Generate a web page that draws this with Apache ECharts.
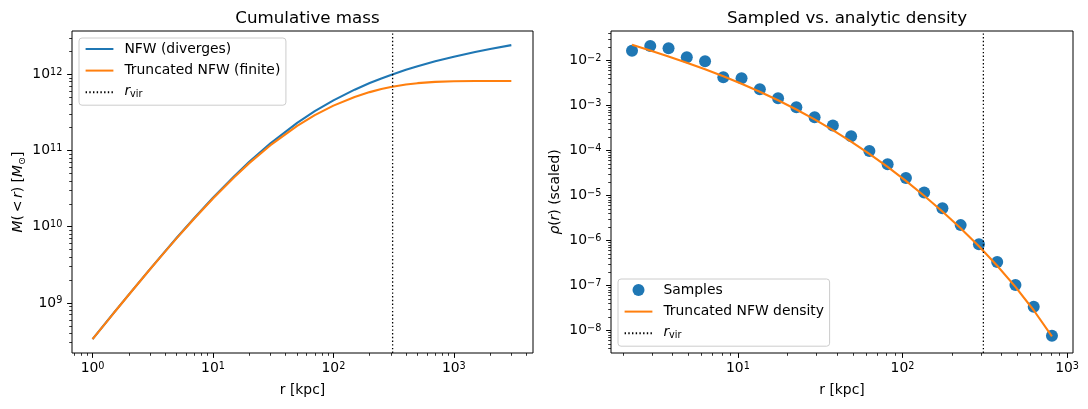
<!DOCTYPE html>
<html><head><meta charset="utf-8">
<script src="https://cdn.jsdelivr.net/npm/echarts@6/dist/echarts.min.js"></script>
<style>html,body{margin:0;padding:0;background:#fff}#c{width:1088px;height:409px}</style>
</head><body><div id="c"></div>
<script>
// ---- Left panel: cumulative mass ----
const massRadii = [1, 1.5, 2, 3, 4, 5, 7, 10, 15, 20, 30, 50, 70, 100, 150, 200, 250, 300, 400, 500, 700, 1000, 1500, 2000, 3000];
const massNFW = [3.35e8, 7.38e8, 1.286e9, 2.779e9, 4.752e9, 7.148e9, 1.302e10, 2.397e10, 4.606e10, 7.098e10, 1.243e11, 2.305e11, 3.278e11, 4.553e11, 6.285e11, 7.675e11, 8.831e11, 9.818e11, 1.1446e12, 1.2756e12, 1.4796e12, 1.7023e12, 1.9613e12, 2.1477e12, 2.4133e12];
const massTrunc = [3.342e8, 7.36e8, 1.280e9, 2.762e9, 4.712e9, 7.075e9, 1.2835e10, 2.347e10, 4.469e10, 6.826e10, 1.1742e11, 2.108e11, 2.911e11, 3.881e11, 5.044e11, 5.837e11, 6.398e11, 6.807e11, 7.339e11, 7.648e11, 7.953e11, 8.106e11, 8.156e11, 8.165e11, 8.166e11];
// ---- Right panel: sampled vs analytic density ----
const sampleRadii = [2.273, 2.934, 3.789, 4.891, 6.315, 8.152, 10.52, 13.59, 17.54, 22.65, 29.24, 37.74, 48.73, 62.91, 81.22, 104.9, 135.4, 174.8, 225.6, 291.3, 376.1, 485.5, 626.8, 809.1];
const sampleDensity = [1.67e-2, 2.12e-2, 1.89e-2, 1.19e-2, 9.7e-3, 4.27e-3, 4.06e-3, 2.31e-3, 1.46e-3, 9.2e-4, 5.52e-4, 3.6e-4, 2.09e-4, 9.85e-5, 4.99e-5, 2.47e-5, 1.17e-5, 5.25e-6, 2.2e-6, 8.3e-7, 3.31e-7, 1.02e-7, 3.36e-8, 7.6e-9];
const densityTrunc = [2.271e-2, 1.687e-2, 1.240e-2, 8.993e-3, 6.414e-3, 4.486e-3, 3.068e-3, 2.039e-3, 1.316e-3, 8.206e-4, 4.941e-4, 2.858e-4, 1.588e-4, 8.469e-5, 4.330e-5, 2.118e-5, 9.919e-6, 4.424e-6, 1.871e-6, 7.433e-7, 2.745e-7, 9.282e-8, 2.810e-8, 7.411e-9];
const R_VIR = 310;
// ---- Axis ranges and tick labels ----
const massXRange = [0.675, 4540];
const massYRange = [2.2e8, 3.7e12];
const densXRange = [1.694, 1086];
const densYRange = [3.15e-9, 4.57e-2];
const massXTicks = [1, 10, 100, 1000];
const massYTicks = [1e9, 1e10, 1e11, 1e12];
const densXTicks = [10, 100, 1000];
const densYTicks = [1e-8, 1e-7, 1e-6, 1e-5, 1e-4, 1e-3, 1e-2];

const FONT = 'DejaVu Sans';
const BLUE = '#1f77b4', ORANGE = '#ff7f0e';

function minorTicks(range) {
  const out = [];
  const k0 = Math.floor(Math.log10(range[0])), k1 = Math.ceil(Math.log10(range[1]));
  for (let k = k0; k <= k1; k++) {
    for (let m = 2; m <= 9; m++) {
      const v = m * Math.pow(10, k);
      if (v >= range[0] && v <= range[1]) out.push(v);
    }
  }
  return out;
}
function expLabel(v) {
  const e = Math.round(Math.log10(v));
  const s = (e < 0 ? '\u2212' + (-e) : '' + e);
  return '{b|10}{s|' + s + '}';
}
const tickRich = {
  b: { fontSize: 13.9, fontFamily: FONT, color: '#000', lineHeight: 14, verticalAlign: 'bottom', padding: [4, 0, 0, 0] },
  s: { fontSize: 9.7, fontFamily: FONT, color: '#000', lineHeight: 10, verticalAlign: 'top' }
};

function mainAxis(grid, range, ticks, isX, name, nameRich, nameGap) {
  return {
    type: 'log', gridIndex: grid, min: range[0], max: range[1],
    position: isX ? 'bottom' : 'left',
    axisLine: { show: false },
    splitLine: { show: false },
    axisTick: { show: true, customValues: ticks, length: 4.9, lineStyle: { color: '#000', width: 1 } },
    axisLabel: { show: true, customValues: ticks, formatter: expLabel, margin: isX ? 8 : 9.7, rich: tickRich, color: '#000' },
    name: name, nameLocation: 'middle', nameGap: nameGap,
    nameTextStyle: { fontSize: 13.9, fontFamily: FONT, color: '#000', rich: nameRich || {} }
  };
}
function minorAxis(grid, range, isX) {
  return {
    type: 'log', gridIndex: grid, min: range[0], max: range[1],
    position: isX ? 'bottom' : 'left',
    axisLine: { show: false }, splitLine: { show: false },
    axisTick: { show: true, customValues: minorTicks(range), length: 2.8, lineStyle: { color: '#000', width: 0.8 } },
    axisLabel: { show: false }
  };
}
const nameRich = {
  n: { fontSize: 13.9, fontFamily: FONT, color: '#000', lineHeight: 16, verticalAlign: 'top' },
  i: { fontSize: 13.9, fontFamily: FONT, fontStyle: 'italic', color: '#000', lineHeight: 16, verticalAlign: 'top' },
  sub: { fontSize: 9.7, fontFamily: FONT, color: '#000', lineHeight: 11, padding: [6, 0, 0, 0], verticalAlign: 'top' }
};
const legendRich = {
  i: { fontSize: 13.9, fontFamily: FONT, fontStyle: 'italic', color: '#000', lineHeight: 16, verticalAlign: 'top' },
  sub: { fontSize: 9.7, fontFamily: FONT, color: '#000', lineHeight: 11, padding: [5, 0, 0, 0], verticalAlign: 'top' }
};
const noSymbol = { opacity: 0 };
function legendCfg(left, top, names) {
  return {
    orient: 'vertical', left: left, top: top,
    data: names, itemWidth: 27.8, itemHeight: 12, itemGap: 5.6,
    padding: [3, 5.6, 5, 5.6],
    backgroundColor: 'rgba(255,255,255,0.8)', borderColor: '#cccccc', borderWidth: 1, borderRadius: 3,
    selectedMode: false,
    formatter: function (n) { return n === 'rvir' ? '{i|r}{sub|vir}' : n; },
    textStyle: { fontSize: 13.9, fontFamily: FONT, color: '#000', lineHeight: 16, padding: [0, 0, 0, 6], rich: legendRich }
  };
}
const pairs = (xs, ys) => xs.map((x, i) => [x, ys[i]]);
const dotted = { color: '#000', width: 1.3, type: [1.4, 2.3] };
const LW = 2.1;

const option = {
  animation: false,
  textStyle: { fontFamily: FONT },
  title: [
    { text: 'Cumulative mass', left: 302.5, top: 5, textAlign: 'center', textStyle: { fontSize: 16.7, fontWeight: 'normal', fontFamily: FONT, color: '#000' } },
    { text: 'Sampled vs. analytic density', left: 842, top: 5, textAlign: 'center', textStyle: { fontSize: 16.7, fontWeight: 'normal', fontFamily: FONT, color: '#000' } }
  ],
  grid: [
    { left: 72, top: 31, width: 461, height: 322, show: true, borderColor: '#000', borderWidth: 1, backgroundColor: 'transparent' },
    { left: 611, top: 31, width: 462, height: 322, show: true, borderColor: '#000', borderWidth: 1, backgroundColor: 'transparent' }
  ],
  xAxis: [
    mainAxis(0, massXRange, massXTicks, true, 'r [kpc]', null, 30),
    minorAxis(0, massXRange, true),
    mainAxis(1, densXRange, densXTicks, true, 'r [kpc]', null, 30),
    minorAxis(1, densXRange, true)
  ],
  yAxis: [
    mainAxis(0, massYRange, massYTicks, false, '{i|M}{n|(\u2009<\u2009}{i|r}{n|) [}{i|M}{sub|\u2299}{n|]}', nameRich, 45),
    minorAxis(0, massYRange, false),
    mainAxis(1, densYRange, densYTicks, false, '{i|\u03c1}{n|(}{i|r}{n|) (scaled)}', nameRich, 47),
    minorAxis(1, densYRange, false)
  ],
  legend: [
    legendCfg(79, 38, [
      { name: 'NFW (diverges)', itemStyle: noSymbol },
      { name: 'Truncated NFW (finite)', itemStyle: noSymbol },
      { name: 'rvir', itemStyle: noSymbol }
    ]),
    legendCfg(618, 279, [
      { name: 'Samples', icon: 'circle' },
      { name: 'Truncated NFW density', itemStyle: noSymbol },
      { name: 'rvir', itemStyle: noSymbol }
    ])
  ],
  series: [
    { name: 'NFW (diverges)', type: 'line', xAxisIndex: 0, yAxisIndex: 0, data: pairs(massRadii, massNFW), symbol: 'none', lineStyle: { color: BLUE, width: LW }, itemStyle: { color: BLUE }, z: 3 },
    { name: 'Truncated NFW (finite)', type: 'line', xAxisIndex: 0, yAxisIndex: 0, data: pairs(massRadii, massTrunc), symbol: 'none', lineStyle: { color: ORANGE, width: LW }, itemStyle: { color: ORANGE }, z: 4 },
    { name: 'rvir', type: 'line', xAxisIndex: 0, yAxisIndex: 0, data: [[R_VIR, massYRange[0]], [R_VIR, massYRange[1]]], symbol: 'none', lineStyle: dotted, itemStyle: { color: '#000' }, z: 5 },
    { name: 'Samples', type: 'scatter', xAxisIndex: 2, yAxisIndex: 2, data: pairs(sampleRadii, sampleDensity), symbol: 'circle', symbolSize: 12, itemStyle: { color: BLUE, opacity: 1 }, z: 2 },
    { name: 'Truncated NFW density', type: 'line', xAxisIndex: 2, yAxisIndex: 2, data: pairs(sampleRadii, densityTrunc), symbol: 'none', lineStyle: { color: ORANGE, width: LW }, itemStyle: { color: ORANGE }, z: 4 },
    { name: 'rvir', type: 'line', xAxisIndex: 2, yAxisIndex: 2, data: [[R_VIR, densYRange[0]], [R_VIR, densYRange[1]]], symbol: 'none', lineStyle: dotted, itemStyle: { color: '#000' }, z: 5 }
  ]
};
const chart = echarts.init(document.getElementById('c'), null, { renderer: 'canvas' });
chart.setOption(option);
</script></body></html>
